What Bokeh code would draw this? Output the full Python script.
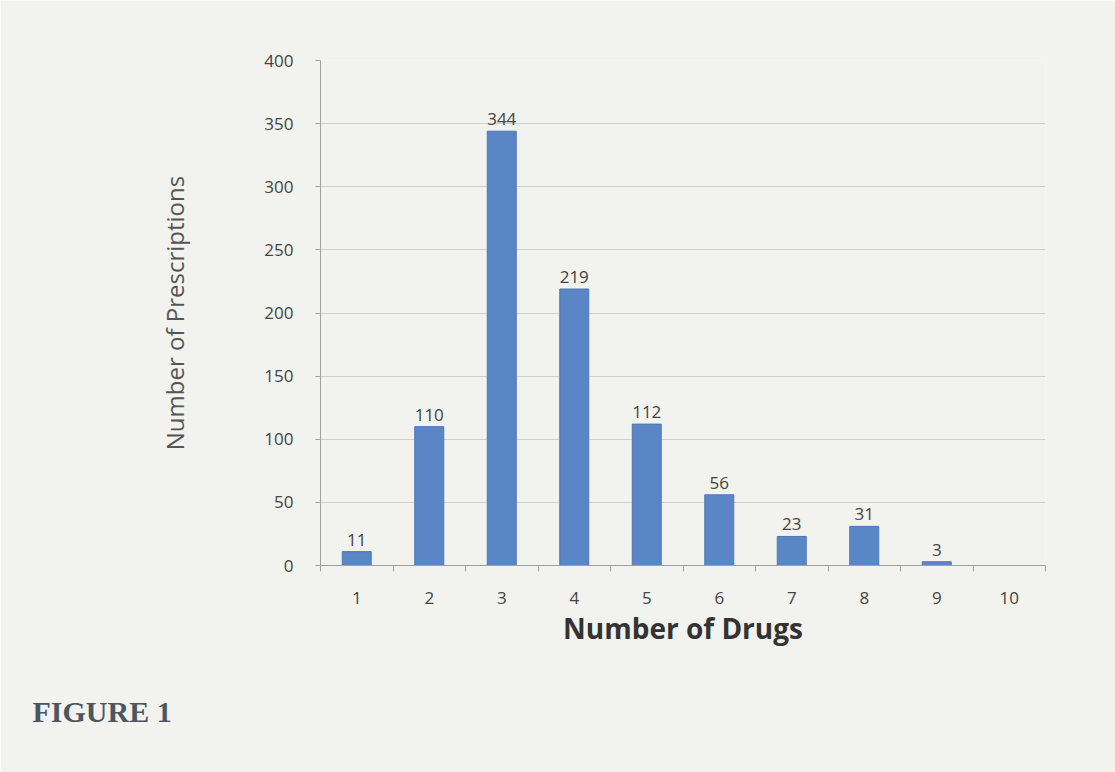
from bokeh.plotting import figure
from bokeh.models import ColumnDataSource, FixedTicker, LabelSet, Title
from bokeh.core.properties import value
from bokeh.embed import file_html
from bokeh.resources import INLINE

num_drugs = [1, 2, 3, 4, 5, 6, 7, 8, 9, 10]
prescriptions = [11, 110, 344, 219, 112, 56, 23, 31, 3, 0]
bar_labels = ["11", "110", "344", "219", "112", "56", "23", "31", "3", ""]
y_ticks = [0, 50, 100, 150, 200, 250, 300, 350, 400]

src = ColumnDataSource(dict(x=num_drugs, y=prescriptions, lbl=bar_labels))

paper = "#f2f2ee"
p = figure(width=1115, height=772, output_backend="svg", toolbar_location=None,
           x_range=(0.5, 10.5), y_range=(0, 400),
           min_border_left=320, min_border_right=70, min_border_top=60, min_border_bottom=207,
           background_fill_color=paper, border_fill_color=paper, outline_line_color=None)

p.vbar(x="x", top="y", width=0.4, source=src, fill_color="#5a86c6", line_color="#4d79b8")

labels = LabelSet(x="x", y="y", text="lbl", source=src, text_align="center",
                  text_baseline="bottom", y_offset=6, text_font_size="17px",
                  text_color="#444444", text_font=value("Open Sans"))
p.add_layout(labels)

# axes
p.xaxis.ticker = FixedTicker(ticks=num_drugs, minor_ticks=[v - 0.5 for v in num_drugs] + [10.5])
p.xaxis.major_tick_line_color = None
p.xaxis.minor_tick_line_color = "#a0a0a0"
p.xaxis.minor_tick_out = 6
p.xaxis.minor_tick_in = 0
p.xaxis.axis_line_color = "#a0a0a0"
p.xaxis.major_label_text_font_size = "17px"
p.xaxis.major_label_text_color = "#444444"
p.xaxis.major_label_text_font = "Open Sans"
p.xaxis.major_label_standoff = 20
p.xaxis.axis_label = "Number of Drugs"
p.xaxis.axis_label_text_font = "Open Sans"
p.xaxis.axis_label_text_font_style = "bold"
p.xaxis.axis_label_text_font_size = "28px"
p.xaxis.axis_label_text_color = "#333333"
p.xaxis.axis_label_standoff = 2

p.yaxis.ticker = FixedTicker(ticks=y_ticks, minor_ticks=[])
p.yaxis.axis_line_color = "#a0a0a0"
p.yaxis.major_tick_line_color = "#a0a0a0"
p.yaxis.major_tick_out = 5
p.yaxis.major_tick_in = 0
p.yaxis.major_label_text_font_size = "17px"
p.yaxis.major_label_text_color = "#444444"
p.yaxis.major_label_text_font = "Open Sans"
p.yaxis.major_label_standoff = 22
p.yaxis.axis_label = "Number of Prescriptions"
p.yaxis.axis_label_text_font = "Open Sans"
p.yaxis.axis_label_text_font_style = "normal"
p.yaxis.axis_label_text_font_size = "24px"
p.yaxis.axis_label_text_color = "#555555"
p.yaxis.axis_label_standoff = 70

p.xgrid.grid_line_color = None
p.ygrid.grid_line_color = "#cfcfcf"
p.ygrid.grid_line_width = 1.2

fig_title = Title(text="FIGURE 1", align="left", offset=-288, standoff=86,
                  text_font="Liberation Serif", text_font_style="bold", text_font_size="30px",
                  text_color="#4a5662")
p.add_layout(fig_title, "below")

open("out.html", "w").write(file_html(p, INLINE))
